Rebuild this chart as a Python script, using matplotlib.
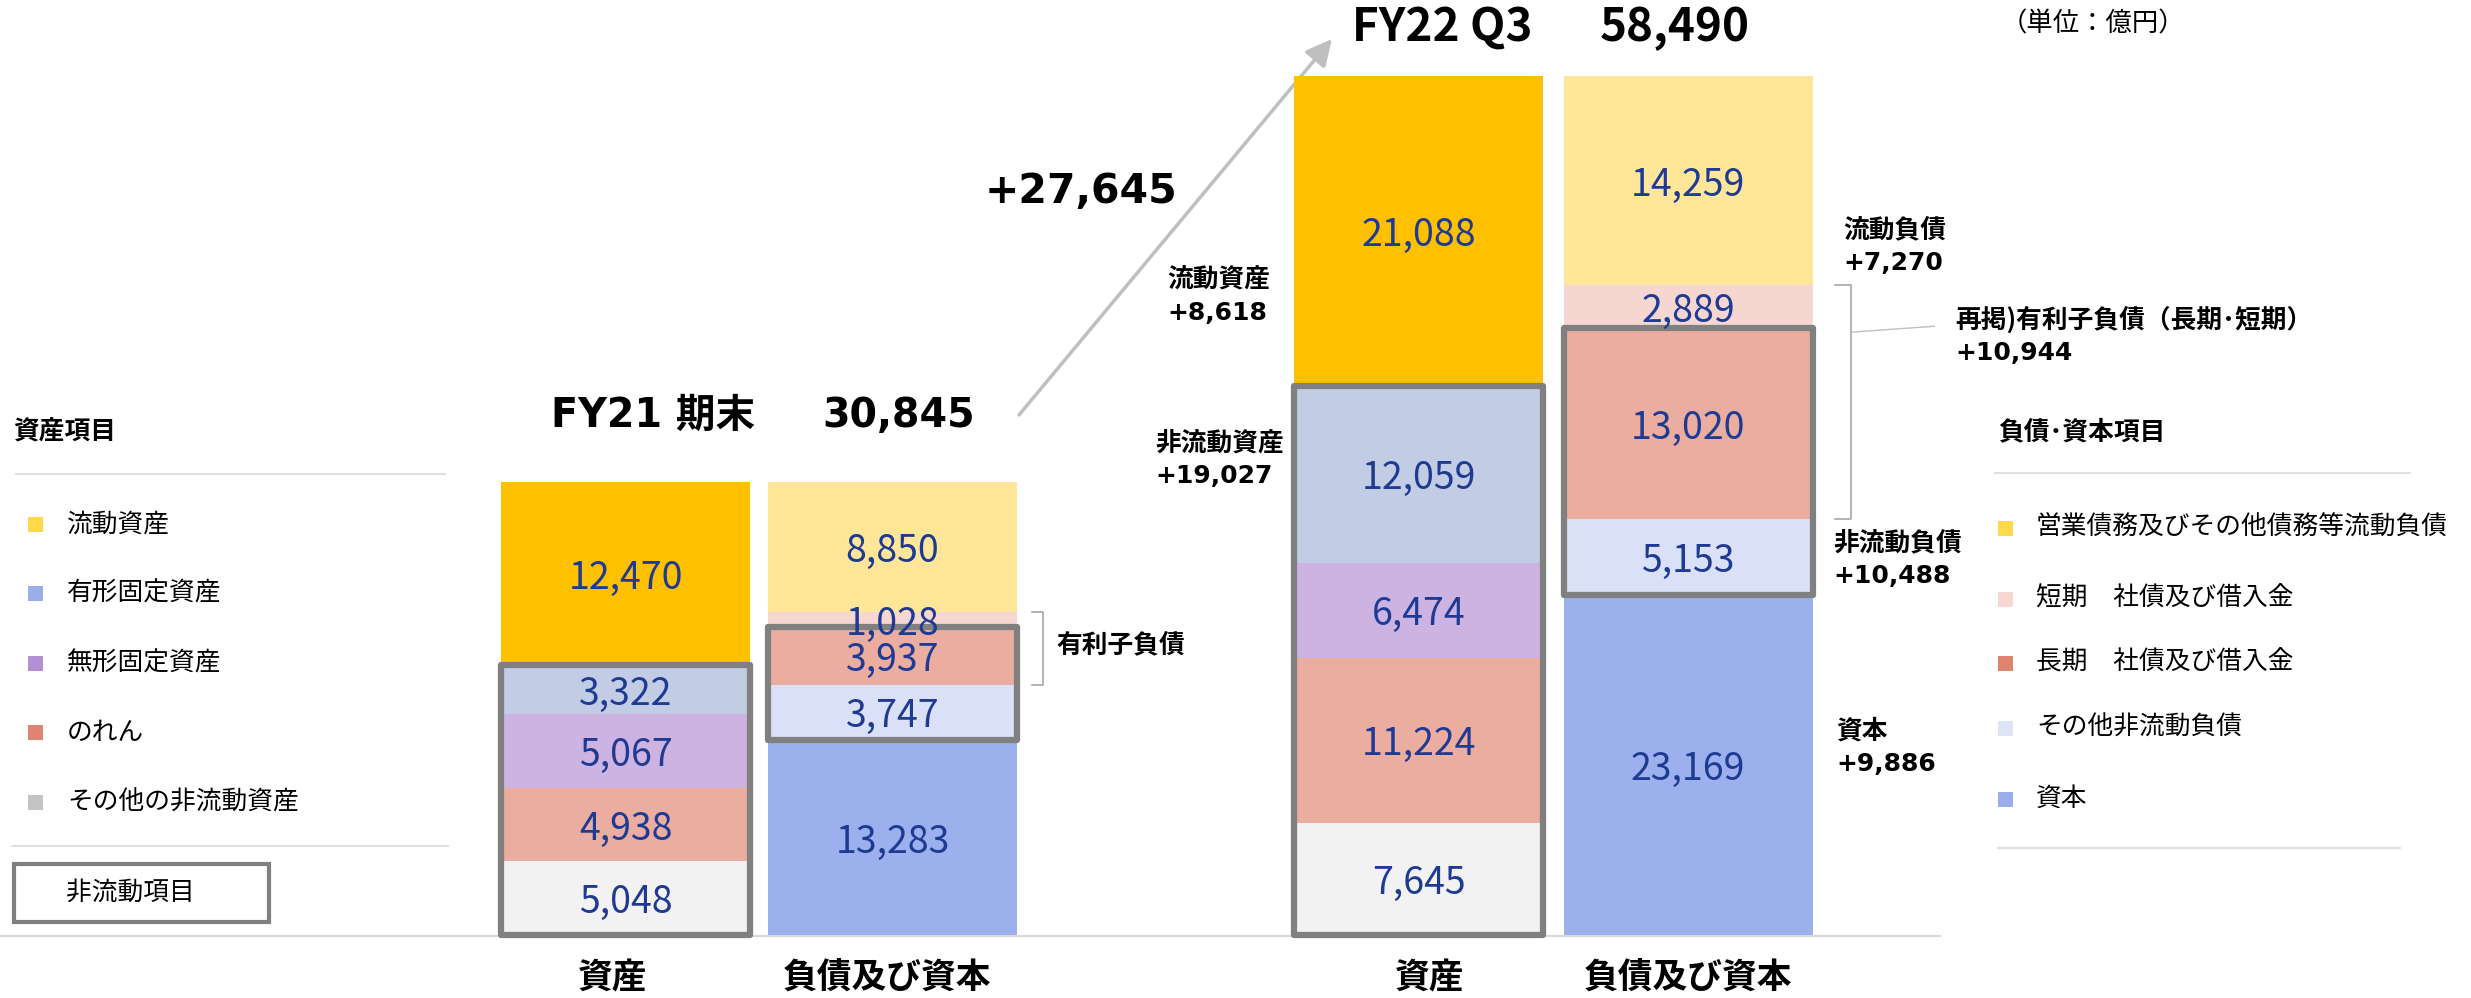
import matplotlib
matplotlib.use('Agg')
import matplotlib.pyplot as plt
from matplotlib.patches import Rectangle
from matplotlib.transforms import blended_transform_factory

plt.rcParams['font.family'] = ['Noto Sans CJK JP', 'DejaVu Sans']
WIDE = ['DejaVu Sans', 'Noto Sans CJK JP']  # verdana-like bold for the headline numbers

# --- data (億円) -------------------------------------------------------------
# stacks are listed bottom -> top
asset_labels = ['その他の非流動資産', 'のれん', '無形固定資産', '有形固定資産', '流動資産']
fy21_assets = [5048, 4938, 5067, 3322, 12470]
fy22_assets = [7645, 11224, 6474, 12059, 21088]

liab_labels = ['資本', 'その他非流動負債', '長期\u3000社債及び借入金',
               '短期\u3000社債及び借入金', '営業債務及びその他債務等流動負債']
fy21_liab = [13283, 3747, 3937, 1028, 8850]
fy22_liab = [23169, 5153, 13020, 2889, 14259]

periods = ['FY21 期末', 'FY22 Q3']
totals = ['30,845', '58,490']
change_total = '+27,645'
column_names = ['資産', '負債及び資本']

# change notes next to the FY22 bars
notes = [('流動資産', '+8,618'), ('非流動資産', '+19,027'), ('流動負債', '+7,270'),
         ('再掲)有利子負債（長期･短期）', '+10,944'), ('非流動負債', '+10,488'),
         ('資本', '+9,886')]

# --- styles ----------------------------------------------------------------
asset_colors = ['#F2F2F2', '#EAADA0', '#CDB3E1', '#C2CDE5', '#FFC000']
liab_colors = ['#9BB0EC', '#DAE0F7', '#EAADA0', '#F6D6D0', '#FFE699']
asset_legend_colors = ['#C4C4C4', '#E08472', '#B48FD3', '#9AAEEB', '#FFD94A']
liab_legend_colors = ['#9AAEEB', '#DFE4F4', '#E08472', '#F8D6D2', '#FFD94A']
value_color = '#1F3A93'
box_color = '#808080'

W, H = 2471, 998
fig = plt.figure(figsize=(W / 100, H / 100), dpi=100)

# overlay in pixel coordinates for free text / legends
ov = fig.add_axes([0, 0, 1, 1])
ov.set_xlim(0, W)
ov.set_ylim(H, 0)
ov.axis('off')

# bar axes
ax = fig.add_axes([492 / W, 1 - 935 / H, 1335 / W, 859 / H])
ax.set_xlim(-0.5, 4.5)
ax.set_ylim(0, sum(fy22_assets))
ax.axis('off')
ax.patch.set_alpha(0)

xpix = blended_transform_factory(ax.transData, ov.transData)

pos = [0, 1, 2.97, 3.98]
bw = 0.933
stacks = [(fy21_assets, asset_colors), (fy21_liab, liab_colors),
          (fy22_assets, asset_colors), (fy22_liab, liab_colors)]

for x, (vals, cols) in zip(pos, stacks):
    bottom = 0
    for v, c in zip(vals, cols):
        ax.bar(x, v, bw, bottom=bottom, color=c, linewidth=0, zorder=2)
        ax.text(x, bottom + v / 2, f'{v:,}', ha='center', va='center_baseline',
                fontsize=27, color=value_color, zorder=4)
        bottom += v

# grey outline around non-current items
for i, (vals, _) in enumerate(stacks):
    x = pos[i]
    if i % 2 == 0:
        y0, h = 0, sum(vals[:4])
    else:
        y0, h = vals[0], vals[1] + vals[2]
    ax.add_patch(Rectangle((x - bw / 2, y0), bw, h, fill=False, edgecolor=box_color,
                           linewidth=4.5, joinstyle='round', zorder=3, clip_on=False))

# brackets for interest-bearing debt
for x, vals, gap, tick in [(pos[1], fy21_liab, 0.055, 0.042), (pos[3], fy22_liab, 0.085, 0.06)]:
    top = sum(vals[:4])
    bot = vals[0] + vals[1]
    xl = x + bw / 2 + gap
    ax.plot([xl, xl + tick, xl + tick, xl], [top, top, bot, bot], color='#A6A6A6',
            lw=1.2, clip_on=False, solid_joinstyle='round')
    if x == pos[3]:
        ym = top - 0.2 * (top - bot)
        ax.plot([xl + tick, xl + tick + 0.31], [ym, ym + 400], color='#BFBFBF',
                lw=1.0, clip_on=False)

# titles
ov.text(551, 416, periods[0], fontsize=28.5, fontweight='bold', va='center', family=WIDE)
ov.text(822, 416, totals[0], fontsize=28.5, fontweight='bold', va='center', family=WIDE)
ov.text(1352, 28, periods[1], fontsize=33, fontweight='bold', va='center')
ov.text(1600, 28, totals[1], fontsize=33, fontweight='bold', va='center')
ov.text(2001, 24, '（単位：億円）', fontsize=19, va='center')

# total change arrow
ov.annotate('', xy=(1332, 39), xytext=(1019, 415),
            arrowprops=dict(arrowstyle='-|>,head_length=0.8,head_width=0.4',
                            color='#BFBFBF', lw=2.5, shrinkA=0, shrinkB=0,
                            mutation_scale=20))
ov.text(985, 192, change_total, fontsize=29.5, fontweight='bold', va='center', family=WIDE)

# change notes
note_xy = [(1167, 280), (1155, 443), (1843, 230), (1955, 320), (1833, 543), (1836, 731)]
for (a, b), (nx, ny) in zip(notes, note_xy):
    ov.text(nx, ny, a, fontsize=18.5, fontweight='bold', va='center')
    ov.text(nx, ny + 33, b, fontsize=18, fontweight='bold', va='center', family=WIDE)
ov.text(1056, 645, '有利子負債', fontsize=18.5, fontweight='bold', va='center')

# column labels
for x, name, dx in zip(pos, column_names * 2, [-0.05, -0.02, 0.04, 0.0]):
    ax.text(x + dx, 978, name, transform=xpix, ha='center', va='center',
            fontsize=25, fontweight='bold')

# baseline
ov.plot([0, 1940], [936, 936], color='#D9D9D9', lw=1.5)

# left legend
ov.text(13, 432, '資産項目', fontsize=18.5, fontweight='bold', va='center')
ov.plot([16, 445], [474, 474], color='#E0E0E0', lw=1.5)
for i, (lab, c) in enumerate(zip(asset_labels[::-1], asset_legend_colors[::-1])):
    y = 524 + i * 69.5
    ov.add_patch(Rectangle((28, y - 7.5), 15, 15, color=c, linewidth=0))
    ov.text(67, y, lab, fontsize=18.5, va='center')
ov.plot([12, 448], [846, 846], color='#E0E0E0', lw=1.5)
ov.add_patch(Rectangle((14, 864), 255, 58, fill=False, edgecolor=box_color, linewidth=3))
ov.text(130, 893, '非流動項目', fontsize=18.5, ha='center', va='center')

# right legend
ov.text(1998, 432, '負債･資本項目', fontsize=18.5, fontweight='bold', va='center')
ov.plot([1995, 2410], [473, 473], color='#E0E0E0', lw=1.5)
right_y = [528, 599, 663, 728, 799]
for y, lab, c in zip(right_y, liab_labels[::-1], liab_legend_colors[::-1]):
    ov.add_patch(Rectangle((1998, y - 7.5), 15, 15, color=c, linewidth=0))
    ov.text(2036, y, lab, fontsize=18.5, va='center')
ov.plot([1998, 2400], [848, 848], color='#E0E0E0', lw=1.5)

fig.savefig('out.png', dpi=100)
